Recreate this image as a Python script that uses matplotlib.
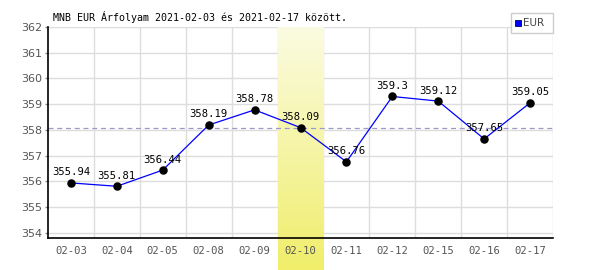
import matplotlib
matplotlib.use("Agg")
import matplotlib.pyplot as plt
import numpy as np
from matplotlib.transforms import blended_transform_factory
from matplotlib.patches import Rectangle

dates = ["02-03", "02-04", "02-05", "02-08", "02-09", "02-10",
         "02-11", "02-12", "02-15", "02-16", "02-17"]
values = [355.94, 355.81, 356.44, 358.19, 358.78, 358.09,
          356.76, 359.3, 359.12, 357.65, 359.05]
highlight = "02-10"
ref_value = 358.09
yticks = [354, 355, 356, 357, 358, 359, 360, 361, 362]
title = "MNB EUR Árfolyam 2021-02-03 és 2021-02-17 között."
series_name = "EUR"

mono = "DejaVu Sans Mono"
fig = plt.figure(figsize=(6, 2.7), dpi=100)
ax = fig.add_axes([48/600, 32/270, 505/600, 211/270])
x = np.arange(len(dates))

# gridlines
for v in yticks:
    ax.axhline(v, color="#dddddd", lw=1, zorder=0.5)
for b in np.arange(0.5, len(dates) - 0.5, 1.0):
    ax.axvline(b, color="#dddddd", lw=1, zorder=0.5)
ax.axvline(len(dates) - 0.5, color="#dddddd", lw=1, zorder=0.5)

# highlight band with gradient
hi = dates.index(highlight)
grad = np.linspace(0, 1, 256).reshape(-1, 1)
cmap = matplotlib.colors.LinearSegmentedColormap.from_list("y", ["#fbfbe2", "#f0ee6a"])
tr = blended_transform_factory(ax.transData, ax.transAxes)
ax.imshow(grad, cmap=cmap, aspect="auto", origin="upper",
          extent=(hi - 0.5, hi + 0.5, -32/211, 1.0), transform=tr,
          clip_on=False, zorder=1, interpolation="bilinear")
ax.set_xlim(-0.5, len(dates) - 0.5)
ax.set_ylim(353.8, 362)

ax.axhline(ref_value, color="#9a9ac8", lw=0.9, ls=(0, (4, 3)), zorder=3)

ax.plot(x, values, color="#0000ff", lw=0.9, zorder=4)
ax.scatter(x, values, s=26, color="black", zorder=5)
for xi, v in zip(x, values):
    ax.annotate(f"{v:g}", (xi, v), xytext=(0, 4), textcoords="offset points",
                ha="center", va="bottom", fontsize=7.6, family=mono, color="black", zorder=6)

for s in ["top", "right"]:
    ax.spines[s].set_visible(False)
for s in ["left", "bottom"]:
    ax.spines[s].set_color("black")
    ax.spines[s].set_linewidth(1.2)
    ax.spines[s].set_zorder(7)

ax.set_xticks(x)
ax.set_xticklabels(dates, family=mono, fontsize=7.6, color="#555555")
ax.tick_params(axis="x", length=0, pad=6)
ax.set_yticks(yticks)
ax.set_yticklabels([str(v) for v in yticks], fontsize=8, color="#555555")
ax.tick_params(axis="y", length=2, width=1, color="#888888", pad=2)
ax.patch.set_visible(False)
ax.xaxis.set_zorder(2)
ax.yaxis.set_zorder(2)

fig.text(53/600, 1 - 17/270, title, family=mono, fontsize=7.2, ha="left", va="center")

# legend box
fig.patches.append(Rectangle((511/600, 1 - 33/270), 42/600, 20/270, transform=fig.transFigure,
                             facecolor="white", edgecolor="#cccccc", lw=1, zorder=10))
fig.patches.append(Rectangle((515/600, 1 - 26/270), 6/600, 6/270, transform=fig.transFigure,
                             facecolor="#0000ff", edgecolor="#000066", lw=0.6, zorder=11))
fig.text(523/600, 1 - 23/270, series_name, fontsize=7.5, color="#444444", ha="left", va="center", zorder=12)

fig.savefig("out.png", dpi=100)
